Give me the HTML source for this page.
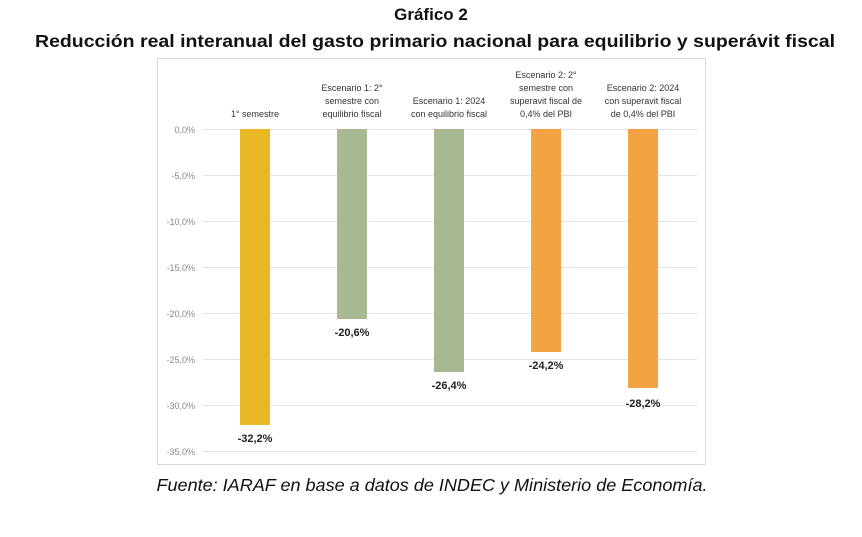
<!DOCTYPE html>
<html><head><meta charset="utf-8"><style>
body{margin:0;width:862px;height:532px;background:#fff;overflow:hidden;font-family:"Liberation Sans",sans-serif}
</style></head><body>
<svg width="862" height="532" xmlns="http://www.w3.org/2000/svg" font-family="Liberation Sans, sans-serif">
<rect x="0" y="0" width="862" height="532" fill="#fff"/>
<text x="431" y="20" text-anchor="middle" font-size="17" font-weight="bold" fill="#111">Gráfico 2</text>
<text x="435" y="47" text-anchor="middle" font-size="17.5" font-weight="bold" fill="#111" textLength="800" lengthAdjust="spacingAndGlyphs">Reducción real interanual del gasto primario nacional para equilibrio y superávit fiscal</text>
<rect x="157.5" y="58.5" width="548" height="406" fill="#fff" stroke="#d9d9d9"/>
<g stroke="#e3e3e3" stroke-width="1">
<line x1="203" x2="697" y1="129.5" y2="129.5"/><line x1="203" x2="697" y1="175.5" y2="175.5"/>
<line x1="203" x2="697" y1="221.5" y2="221.5"/><line x1="203" x2="697" y1="267.5" y2="267.5"/>
<line x1="203" x2="697" y1="313.5" y2="313.5"/><line x1="203" x2="697" y1="359.5" y2="359.5"/>
<line x1="203" x2="697" y1="405.5" y2="405.5"/><line x1="203" x2="697" y1="451.5" y2="451.5"/>
</g>
<g font-size="9" fill="#888" text-anchor="end">
<text x="195" y="133">0,0%</text><text x="195" y="179">-5,0%</text><text x="195" y="225">-10,0%</text>
<text x="195" y="271">-15,0%</text><text x="195" y="317">-20,0%</text><text x="195" y="363">-25,0%</text>
<text x="195" y="409">-30,0%</text><text x="195" y="455">-35,0%</text>
</g>
<rect x="240" y="129" width="30" height="296" fill="#e8b923"/>
<rect x="337" y="129" width="30" height="190" fill="#a8b893"/>
<rect x="434" y="129" width="30" height="243" fill="#a8b893"/>
<rect x="531" y="129" width="30" height="223" fill="#f2a444"/>
<rect x="628" y="129" width="30" height="259" fill="#f2a444"/>
<g font-size="11" font-weight="bold" fill="#222" text-anchor="middle">
<text x="255" y="442">-32,2%</text><text x="352" y="336">-20,6%</text><text x="449" y="389">-26,4%</text>
<text x="546" y="369">-24,2%</text><text x="643" y="407">-28,2%</text>
</g>
<g font-size="9" fill="#333" text-anchor="middle">
<text x="255" y="117">1° semestre</text>
<text x="352" y="91">Escenario 1: 2°</text><text x="352" y="104">semestre con</text><text x="352" y="117">equilibrio fiscal</text>
<text x="449" y="104">Escenario 1: 2024</text><text x="449" y="117">con equilibrio fiscal</text>
<text x="546" y="78">Escenario 2: 2°</text><text x="546" y="91">semestre con</text><text x="546" y="104">superavit fiscal de</text><text x="546" y="117">0,4% del PBI</text>
<text x="643" y="91">Escenario 2: 2024</text><text x="643" y="104">con superavit fiscal</text><text x="643" y="117">de 0,4% del PBI</text>
</g>
<text x="432" y="491" text-anchor="middle" font-size="17.5" font-style="italic" fill="#111" textLength="551" lengthAdjust="spacingAndGlyphs">Fuente: IARAF en base a datos de INDEC y Ministerio de Economía.</text>
</svg>
</body></html>
